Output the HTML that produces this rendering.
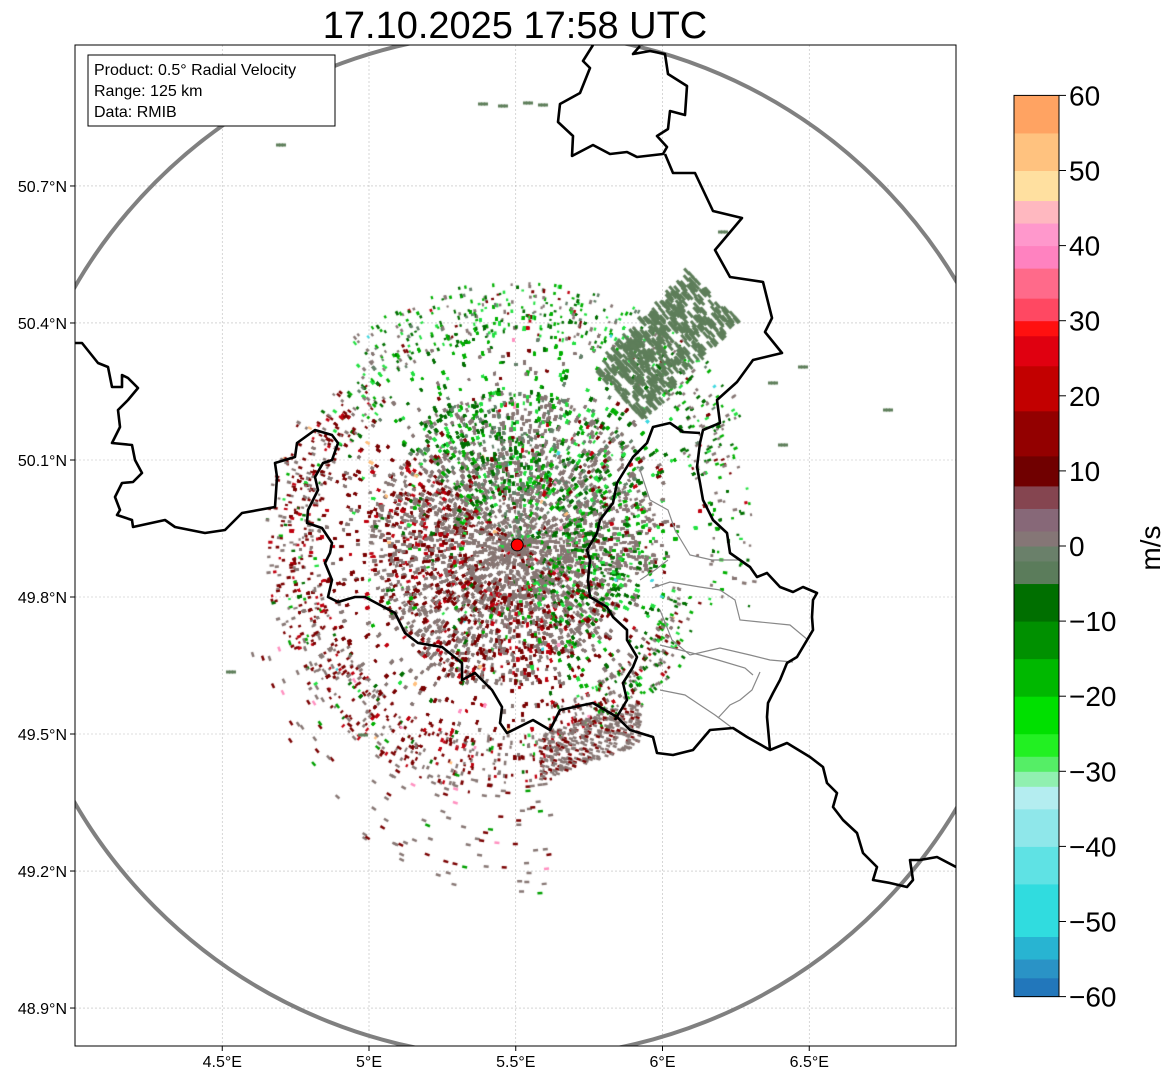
<!DOCTYPE html>
<html><head><meta charset="utf-8"><style>
html,body{margin:0;padding:0;background:#fff;}
#wrap{position:relative;width:1171px;height:1081px;overflow:hidden;font-family:"Liberation Sans",sans-serif;}
svg,canvas{position:absolute;left:0;top:0;}
</style></head><body>
<div id="wrap">
<svg id="under" width="1171" height="1081"></svg>
<canvas id="cv" width="1171" height="1081"></canvas>
<svg id="over" width="1171" height="1081"></svg>
</div>
<script>
// ---- data arrays ----
const lonTicks = [4.5, 5.0, 5.5, 6.0, 6.5];
const lonLabels = ["4.5°E","5°E","5.5°E","6°E","6.5°E"];
const latTicks = [50.7, 50.4, 50.1, 49.8, 49.5, 49.2, 48.9];
const latLabels = ["50.7°N","50.4°N","50.1°N","49.8°N","49.5°N","49.2°N","48.9°N"];
const cbTicks = [60,50,40,30,20,10,0,-10,-20,-30,-40,-50,-60];
const cbLabels = ["60","50","40","30","20","10","0","−10","−20","−30","−40","−50","−60"];
const radarSite = [5.505, 49.914];
const radarRangeKm = [125];
const cbBandLo = [-60,-57.5,-55,-52,-45,-40,-35,-32,-30,-28,-25,-20,-15,-10,-5,-2,0,2,5,8,12,18,24,28,30,33,37,40,43,46,50,55];
const cbBandColor = ["#2277bb","#2a93c6","#28b4d2","#30dcdf","#5fe2e4","#8fe7ea","#b4edf0","#90f0b0","#55ee66","#22f022","#00e000","#00b800","#009000","#006f00","#5b7c5b","#6a806a","#857676","#876878","#854550","#700000","#930000","#c20000","#e00010","#ff1010","#ff4862","#ff6a8a","#ff82c0","#ff98cc","#ffb8c0","#ffe0a0","#ffc27f","#ffa362"];

// ---- axis functions ----
const AX = {x0:75, y0:45, x1:956, y1:1046};
function lonX(lon){ return 369 + (lon-5)*293.5; }
function latY(lat){ return 597 - (lat-49.8)*456.7; }
function cbY(v){ return 546 - v*7.51; }
const NS="http://www.w3.org/2000/svg";
function mk(parent,tag,attrs,name,text){
  const e=document.createElementNS(NS,tag);
  for(const k in attrs) e.setAttribute(k,attrs[k]);
  
  
  if(text!==undefined) e.textContent=text;
  parent.appendChild(e); return e;
}
const U=document.getElementById('under'), O=document.getElementById('over');
mk(U,'rect',{x:AX.x0,y:AX.y0,width:AX.x1-AX.x0,height:AX.y1-AX.y0,fill:'#fff'},'plot-area');
lonTicks.forEach((v,i)=>{const x=lonX(v);
  mk(U,'line',{x1:x,x2:x,y1:AX.y0,y2:AX.y1,stroke:'#bbb','stroke-width':0.6,'stroke-dasharray':'2,2'},'lon-gridline');
  mk(O,'line',{x1:x,x2:x,y1:AX.y1,y2:AX.y1+5,stroke:'#000'},'lon-tick');
  mk(O,'text',{x:x,y:1067,'font-size':16,'text-anchor':'middle'},'lon-tick-label',lonLabels[i]);
});
latTicks.forEach((v,i)=>{const y=latY(v);
  mk(U,'line',{y1:y,y2:y,x1:AX.x0,x2:AX.x1,stroke:'#bbb','stroke-width':0.6,'stroke-dasharray':'2,2'},'lat-gridline');
  mk(O,'line',{y1:y,y2:y,x1:AX.x0-5,x2:AX.x0,stroke:'#000'},'lat-tick');
  mk(O,'text',{x:67,y:y+6,'font-size':16,'text-anchor':'end'},'lat-tick-label',latLabels[i]);
});

// ---- speckle field (deterministic texture) ----
const cx=lonX(radarSite[0]), cy=latY(radarSite[1]);
const cv=document.getElementById('cv'), ctx=cv.getContext('2d');
ctx.save(); ctx.beginPath(); ctx.rect(AX.x0,AX.y0,AX.x1-AX.x0,AX.y1-AX.y0); ctx.clip();
let seed=12345; function rnd(){ seed=(seed*1103515245+12345)%2147483648; return seed/2147483648; }
function put(x,y,col,w,h,ang){ ctx.save(); ctx.translate(x,y); ctx.rotate(ang); ctx.fillStyle=col; ctx.fillRect(-w/2,-h/2,w,h); ctx.restore(); }
const GRAY='#877774';
function speck(n, rfun, grayFn){
  for(let i=0;i<n;i++){
    const a=rnd()*Math.PI*2;
    const r=rfun();
    const deg=a*180/Math.PI;
    let rr=r;
    if(deg>280 && deg<345) rr=r*0.85;
    if(deg>150 && deg<260) rr=r*1.05;
    if(deg>30 && deg<130) rr=r*1.1;
    const x=cx+Math.cos(a)*rr, y=cy-Math.sin(a)*rr;
    if(x>680 && y>470 && y<720 && rnd()<0.75) continue;
    const p=rnd(); let col;
    const grayP = grayFn(r);
    const west = deg>140 && deg<290, north = deg>=25 && deg<=140, east = deg<25||deg>330;
    const marP = west?0.6:0.08, grnP = north?0.5:(east?0.45:0.08);
    if(p<grayP) col = (north&&rnd()<0.25)?'#64806a':GRAY;
    else if(p<grayP+(1-grayP)*marP/(marP+grnP+0.04)) col = rnd()<0.8?'#7a0000':'#c00010';
    else if(p<0.99) { const q=rnd(); col = q<0.45?'#006f00':(q<0.8?'#00b000':'#22e040'); }
    else col = ['#ff90c0','#40d8e0','#ffc080'][Math.floor(rnd()*3)];
    const w=2+rnd()*2.5, h=2+rnd()*1;
    put(x,y,col,w,h,-a);
  }
}
// core
speck(30000, ()=>140*Math.pow(rnd(),0.7), r=> r<80?0.85:0.6);
// mid
speck(22000, ()=>50+170*Math.pow(rnd(),1.4), r=> r<140?0.45:0.3);
// outer sparse
speck(1500, ()=>190+50*rnd(), r=>0.35);
// NE green-gray echo patch
for(let i=0;i<650;i++){
  const u=rnd(), v=rnd()-0.5;
  const x=618+u*95 + v*50, y=395-u*100 + v*50;
  if(rnd()<0.2) continue;
  put(x,y,'#5e7e5a',8,3,0.85);
}
// SE gray cluster
for(let i=0;i<350;i++){
  const u=rnd()-0.5, v=rnd()-0.5;
  const x=590+u*100, y=740+v*45-u*35;
  put(x,y,rnd()<0.8?GRAY:'#7a0000',4,2.5,0.3);
}
// far scattered echoes (south)
for(let i=0;i<140;i++){
  const a=Math.PI*(1.1+rnd()*0.45);
  const r=240+rnd()*110;
  const x=cx+Math.cos(a)*r*0.8, y=cy-Math.sin(a)*r;
  const q=rnd();
  put(x,y,q<0.55?GRAY:(q<0.8?'#7a0000':(q<0.9?'#00a000':'#ff90c0')),5,2.5,-a+Math.PI/2);
}
[[480,104],[500,106],[525,103],[540,105],[278,145],[720,232],[885,410],[228,672],[360,735],[800,367],[770,383],[780,445]].forEach(p=>{
  for(let k=0;k<3;k++) put(p[0]+k*3,p[1],'#5e7e5a',4,3,0);
});
ctx.restore();

// ---- range ring ----
const rkm=radarRangeKm[0];
const rx = rkm/(111.32*Math.cos(radarSite[1]*Math.PI/180))*293.5, ry = rkm/111.32*456.7;
const clip=mk(O,'clipPath',{id:'axclip'},'axes-clip');
mk(clip,'rect',{x:AX.x0,y:AX.y0,width:AX.x1-AX.x0,height:AX.y1-AX.y0},'axes-clip-rect');
const g=mk(O,'g',{'clip-path':'url(#axclip)'},'map-layers');
mk(g,'ellipse',{cx:cx,cy:cy,rx:rx,ry:ry,fill:'none',stroke:'#808080','stroke-width':4},'range-ring');

// ---- borders ----
const gray=[
 [[640,470],[650,500],[668,510],[675,530],[690,555],[712,560],[740,560]],
 [[652,588],[670,582],[700,587],[720,590],[735,600],[740,620],[760,622],[790,625],[808,640]],
 [[660,610],[672,640],[690,655],[720,648],[750,655],[770,660],[793,662]],
 [[660,645],[680,650],[700,655],[718,660],[745,668],[753,675]],
 [[660,690],[685,695],[700,705],[715,715],[731,727]],
 [[760,672],[752,690],[740,700],[730,705],[718,718]],
 [[640,580],[655,570],[668,560]]
];
gray.forEach(l=>mk(g,'polyline',{points:l.map(p=>p.join(',')).join(' '),fill:'none',stroke:'#888','stroke-width':1.2},'district-border'));
const borders=[
 [[593,45],[583,61],[590,68],[580,93],[560,104],[558,122],[573,136],[572,156],[593,145],[610,154],[627,152],[637,157],[663,154],[667,147],[657,136],[668,129],[670,111],[685,115],[687,86],[668,74],[665,54],[650,51],[633,54],[640,46]],
 [[665,154],[673,173],[695,173],[713,211],[742,218],[715,250],[730,277],[763,282],[772,318],[765,332],[782,353],[753,360],[737,382],[717,400],[720,423],[703,430],[700,443],[697,467],[700,483],[703,500],[713,520],[727,533],[730,553],[750,567],[757,577],[767,573],[780,587],[793,592],[803,587],[817,593],[813,600],[812,617],[813,630],[797,657],[787,663],[780,680],[773,693],[768,703],[767,717],[770,750],[787,743],[810,757],[823,767],[827,783],[837,793],[833,807],[843,820],[857,833],[863,853],[877,867],[873,880],[890,883],[907,887],[913,880],[910,860],[920,860],[937,857],[956,867]],
 [[75,343],[82,343],[98,363],[108,367],[112,387],[122,387],[122,375],[128,378],[138,388],[128,400],[118,410],[120,427],[112,443],[132,445],[135,460],[142,473],[133,482],[122,483],[115,497],[120,510],[117,515],[132,520],[133,527],[165,520],[175,527],[205,533],[225,530],[242,513],[275,507],[277,477],[275,463],[295,457],[297,443],[315,430],[332,435],[338,443],[332,460],[323,463],[315,477],[318,490],[308,510],[307,523],[322,528],[332,543],[330,553],[325,563],[332,580],[328,597],[338,602],[355,597],[365,597],[395,613],[405,633],[418,643],[442,647],[462,663],[462,680],[475,673],[492,690],[502,707],[500,723],[507,733],[533,720],[550,730],[560,710],[593,703],[617,717],[630,730],[653,737],[657,753],[673,755],[693,750],[710,730],[733,728],[747,737],[770,750]],
 [[615,720],[627,700],[623,683],[633,667],[637,657],[627,640],[627,630],[613,617],[607,607],[590,597],[588,580],[590,560],[587,550],[597,533],[600,520],[613,503],[617,483],[633,457],[647,443],[653,427],[670,423],[683,432],[700,433]]
];
borders.forEach(l=>mk(g,'polyline',{points:l.map(p=>p.join(',')).join(' '),fill:'none',stroke:'#000','stroke-width':2.6,'stroke-linejoin':'round'},'country-border'));
mk(O,'circle',{cx:cx,cy:cy,r:6,fill:'#ff0000',stroke:'#000','stroke-width':1},'radar-site-marker');
mk(O,'rect',{x:AX.x0,y:AX.y0,width:AX.x1-AX.x0,height:AX.y1-AX.y0,fill:'none',stroke:'#000','stroke-width':1},'axes-frame');

// ---- info box ----
mk(O,'rect',{x:88,y:55,width:247,height:71,fill:'#fff',stroke:'#000','stroke-width':1},'info-box');
["Product: 0.5° Radial Velocity","Range: 125 km","Data: RMIB"].forEach((t,i)=>
  mk(O,'text',{x:94,y:75+i*21,'font-size':16},'info-line',t));
mk(O,'text',{x:515,y:38,'font-size':38,'text-anchor':'middle'},'chart-title','17.10.2025 17:58 UTC');

// ---- colorbar ----
cbBandLo.forEach((lo,i)=>{
  const hi = i+1<cbBandLo.length?cbBandLo[i+1]:60;
  mk(O,'rect',{x:1014,y:cbY(hi),width:45,height:cbY(lo)-cbY(hi)+0.5,fill:cbBandColor[i]},'colorbar-band');
});
mk(O,'rect',{x:1014,y:cbY(60),width:45,height:cbY(-60)-cbY(60),fill:'none',stroke:'#000','stroke-width':1},'colorbar-frame');
cbTicks.forEach((v,i)=>{const y=cbY(v);
  mk(O,'line',{x1:1059,x2:1066,y1:y,y2:y,stroke:'#000'},'colorbar-tick');
  mk(O,'text',{x:1069,y:y+10,'font-size':28},'colorbar-tick-label',cbLabels[i]);
});
mk(O,'text',{x:1160,y:548,'font-size':28,'text-anchor':'middle',transform:'rotate(-90 1160 548)'},'colorbar-label','m/s');
</script>
</body></html>
